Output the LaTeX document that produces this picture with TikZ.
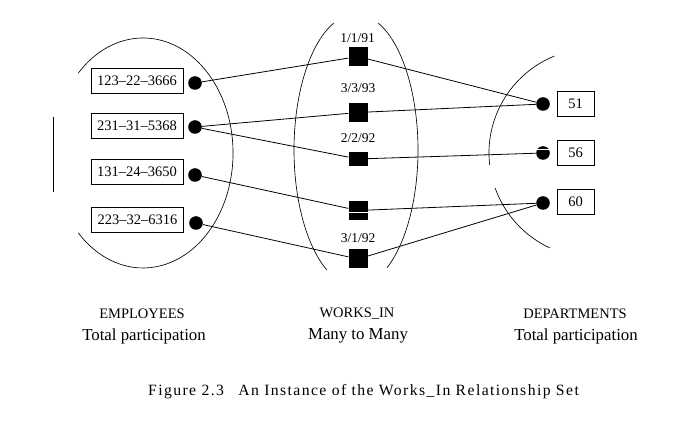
\documentclass[tikz,border=0pt]{standalone}
\usepackage{fontspec}
\setmainfont{Liberation Serif}
\newfontfamily\capfont[LetterSpace=9]{Liberation Serif}
\usetikzlibrary{calc}
\begin{document}
\begin{tikzpicture}[x=1pt,y=1pt,yscale=-1,
  empbox/.style={draw,line width=0.7pt,minimum width=92pt,minimum height=25pt,inner sep=0pt,font=\fontsize{14.5}{17}\selectfont},
  deptbox/.style={draw,line width=0.7pt,minimum width=37pt,minimum height=25pt,inner sep=0pt,font=\fontsize{14.5}{17}\selectfont},
  blob/.style={circle,fill=black,minimum size=13.6pt,inner sep=0pt},
  relsq/.style={fill=black,minimum width=19pt,minimum height=19pt,inner sep=0pt},
  datelabel/.style={font=\fontsize{13.5}{16}\selectfont,inner sep=0pt},
  link/.style={line width=0.8pt},
  setline/.style={line width=0.65pt},
  catlabel/.style={font=\fontsize{14.5}{17}\selectfont,inner sep=0pt},
  partlabel/.style={font=\fontsize{16.8}{20}\selectfont,inner sep=0pt}]
\useasboundingbox (0,0) rectangle (673,422);

% entity sets (ellipse arcs)
\draw[setline] (78.3,73.1) arc[start angle=224,end angle=496,x radius=90,y radius=115];
\draw[setline] (333.8,23) arc[start angle=249,end angle=118,x radius=62,y radius=136];
\draw[setline] (378.2,23) arc[start angle=-69,end angle=60,x radius=62,y radius=136];
\draw[setline] (554.4,56) arc[start angle=247.5,end angle=173.4,x radius=106,y radius=105];
\draw[setline] (495.1,188) arc[start angle=160.5,end angle=115.2,x radius=106,y radius=105];
\draw[line width=0.8pt] (53,117) -- (53,192);

% employees
\node[empbox] (e1) at (137,80.5) {123--22--3666};
\node[empbox] (e2) at (137,125.5) {231--31--5368};
\node[empbox] (e3) at (137,171.5) {131--24--3650};
\node[empbox] (e4) at (137.5,219.5) {223--32--6316};
\node[blob] (d1) at (195,83) {};
\node[blob] (d2) at (195,127) {};
\node[blob] (d3) at (195,175) {};
\node[blob] (d4) at (196,223) {};

% relationships
\node[relsq] (s1) at (358,56.5) {};
\node[relsq] (s2) at (358,112.5) {};
\node[relsq,minimum height=14pt] (s3) at (358,159) {};
\node[relsq] (s4) at (358,210.5) {};
\node[relsq] (s5) at (358,259) {};
\node[datelabel] (t1) at (357.5,38) {1/1/91};
\node[datelabel] (t2) at (358,88) {3/3/93};
\node[datelabel] (t3) at (358,138) {2/2/92};
\node[datelabel] (t5) at (358,238) {3/1/92};

% departments
\node[blob] (p1) at (543,104) {};
\node[blob] (p2) at (543,153) {};
\node[blob] (p3) at (543,203) {};
\node[deptbox] (b1) at (575.5,104) {51};
\node[deptbox] (b2) at (575.5,152.5) {56};
\node[deptbox] (b3) at (575.5,201.5) {60};

% links
\draw[link] (d1) -- (s1) -- (p1);
\draw[link] (d2) -- (s2) -- (p1);
\draw[link] (d2) -- (s3) -- (p2);
\draw[link] (d3) -- (s4) -- (p3);
\draw[link] (d4) -- (s5) -- (p3);

% scan gaps
\draw[white,line width=1.2pt] ($(s4.west)+(0,1.8)$) -- ($(s4.east)+(0,1.8)$);
\draw[white,line width=1.1pt] ($(p2.center)+(-7,-3.5)$) -- ($(p2.center)+(7,-3.5)$);

% captions
\node[catlabel] (c1) at (142,314) {EMPLOYEES};
\node[partlabel] (c2) at (144,336) {Total participation};
\node[catlabel] (c3) at (357,314) {WORKS\_IN};
\node[partlabel] (c4) at (358,336) {Many to Many};
\node[catlabel] (c5) at (575,314) {DEPARTMENTS};
\node[partlabel] (c6) at (576,336) {Total participation};
\node[inner sep=0pt,font=\capfont\fontsize{15.7}{18}\selectfont] (fig) at (363.5,392) {Figure 2.3\hspace{9pt} An Instance of the Works\_In Relationship Set};
\end{tikzpicture}
\end{document}
